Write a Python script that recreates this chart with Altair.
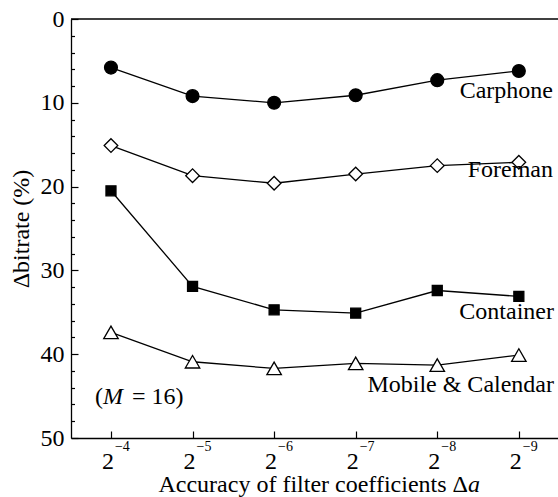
import altair as alt
import pandas as pd

# ---- data ----
exponents = [4, 5, 6, 7, 8, 9]
tick_base = ["2", "2", "2", "2", "2", "2"]
tick_exp = ["\u22124", "\u22125", "\u22126", "\u22127", "\u22128", "\u22129"]
series = ["Carphone", "Foreman", "Container", "Mobile & Calendar"]
carphone = [5.8, 9.2, 10.0, 9.1, 7.3, 6.2]
foreman = [15.1, 18.7, 19.6, 18.5, 17.5, 17.1]
container = [20.5, 31.9, 34.7, 35.1, 32.4, 33.1]
mobile = [37.4, 40.9, 41.7, 41.1, 41.3, 40.1]
y_ticks = list(range(0, 51, 2))
y_labels = list(range(0, 51, 10))

values = [carphone, foreman, container, mobile]
rows = []
for name, vals in zip(series, values):
    for e, v in zip(exponents, vals):
        rows.append({"series": name, "exp": e, "val": v})
df = pd.DataFrame(rows)
ticks_df = pd.DataFrame({"exp": exponents, "base": tick_base, "sup": tick_exp})

FONT = "'Liberation Serif', 'Times New Roman', Times, serif"
W, H = 487, 419
FS = 24

xscale = alt.Scale(domain=[3.51, 9.48], nice=False, zero=False)
yscale = alt.Scale(domain=[0, 50], reverse=True, nice=False, zero=False)

# lines with inward tick axes
lines = alt.Chart(df).mark_line(color="black", strokeWidth=1.3).encode(
    x=alt.X("exp:Q", scale=xscale,
            axis=alt.Axis(orient="top", offset=-H, values=exponents, labels=False,
                          ticks=True, tickSize=7, tickWidth=1.2, tickColor="black",
                          domain=True, domainColor="black", domainWidth=1.3,
                          grid=False, title=None)),
    y=alt.Y("val:Q", scale=yscale,
            axis=alt.Axis(orient="right", offset=-W, values=y_ticks, labels=False,
                          ticks=True,
                          tickSize={"condition": {"test": "datum.value % 10 === 0", "value": 7}, "value": 3.5},
                          tickWidth=1.2, tickColor="black",
                          domain=True, domainColor="black", domainWidth=1.3,
                          grid=False, title=None)),
    detail="series:N",
)

marker_style = {
    "Carphone": ("circle", "black", 165),
    "Foreman": ("diamond", "white", 185),
    "Container": ("square", "black", 100),
    "Mobile & Calendar": ("triangle-up", "white", 210),
}


def points_for(name):
    shape, fill, size = marker_style[name]
    return alt.Chart(df).transform_filter(alt.datum.series == name).mark_point(
        shape=shape, fill=fill, filled=True, stroke="black", strokeWidth=1.3,
        size=size, opacity=1, fillOpacity=1).encode(
        x=alt.X("exp:Q", scale=xscale, axis=None),
        y=alt.Y("val:Q", scale=yscale, axis=None),
    )


points = [points_for(s) for s in series]

# top frame line + left labelled axis
top_rule = alt.Chart(pd.DataFrame({"v": [0]})).mark_rule(color="black", strokeWidth=1.3).encode(
    y=alt.Y("v:Q", scale=yscale,
            axis=alt.Axis(orient="left", values=y_labels, ticks=False, domain=False, grid=False,
                          labelFont=FONT, labelFontSize=FS, labelColor="black", labelPadding=7,
                          title="\u0394bitrate (%)", titleFont=FONT, titleFontSize=FS,
                          titleFontWeight="normal", titleColor="black",
                          titleX=-43, titleY=H / 2, titleAngle=-90,
                          titleAlign="center", titleBaseline="alphabetic")),
)

base_txt = alt.Chart(ticks_df).mark_text(font=FONT, fontSize=FS, align="right", baseline="alphabetic",
                                          dx=3, color="black").encode(
    x=alt.X("exp:Q", scale=xscale, axis=None), y=alt.value(450), text="base:N")
sup_txt = alt.Chart(ticks_df).mark_text(font=FONT, fontSize=14, align="left", baseline="alphabetic",
                                         dx=4, color="black").encode(
    x=alt.X("exp:Q", scale=xscale, axis=None), y=alt.value(432), text="sup:N")


def label(text, x, y, align="right", style="normal"):
    return alt.Chart(pd.DataFrame({"t": [text]})).mark_text(
        font=FONT, fontSize=FS, align=align, baseline="alphabetic", color="black",
        fontStyle=style).encode(x=alt.value(x), y=alt.value(y), text="t:N")


labels = [
    label(series[0], 482, 79),
    label(series[1], 482, 158),
    label(series[2], 483, 300),
    label(series[3], 483, 373),
    label("(", 24, 385, align="left"),
    label("M", 32, 385, align="left", style="italic"),
    label("= 16)", 61, 385, align="left"),
    label("Accuracy of filter coefficients \u0394", 397, 472.5),
    label("a", 397, 472.5, align="left", style="italic"),
]

chart = alt.layer(lines, *points, top_rule, base_txt, sup_txt, *labels).resolve_axis(
    x="independent", y="independent"
).properties(
    width=W, height=H,
    autosize=alt.AutoSizeParams(type="none"),
    padding={"left": 71, "top": 19, "right": 0, "bottom": 59},
    background="white",
).configure_view(stroke=None)

chart.save("out.html", embed_options={"renderer": "svg", "actions": False})
